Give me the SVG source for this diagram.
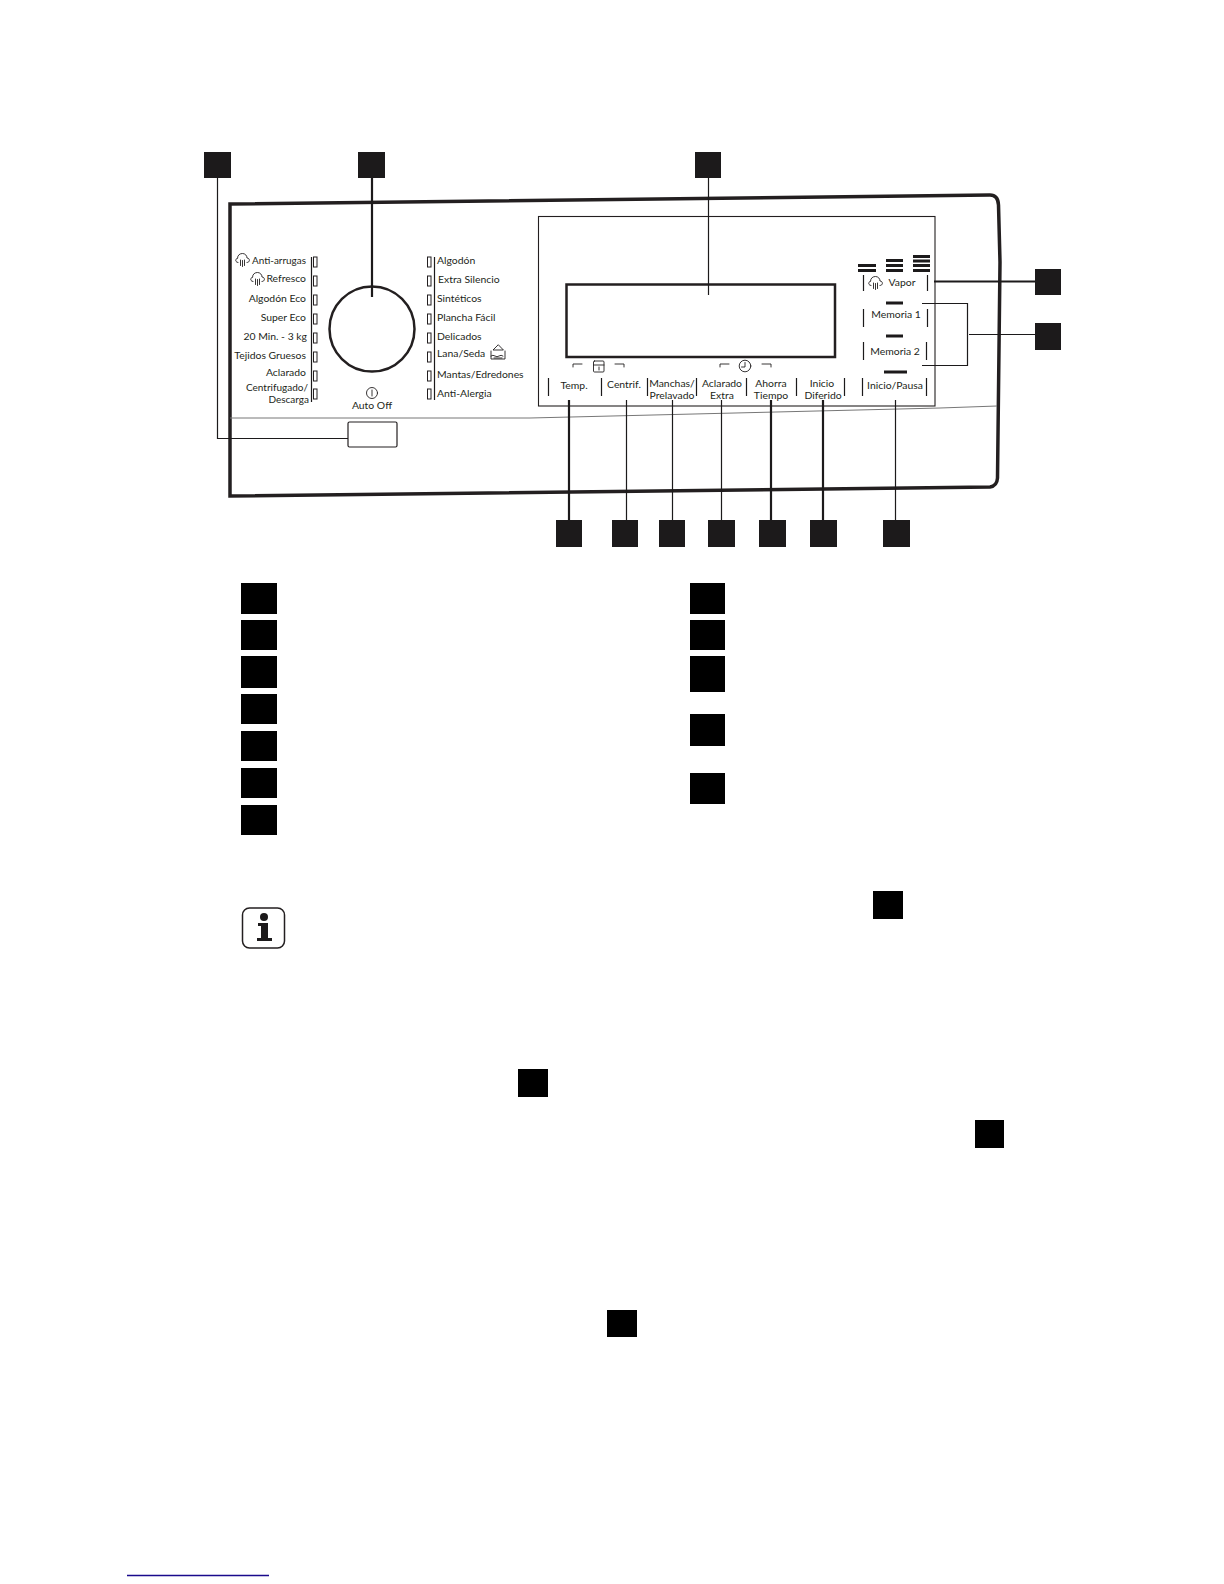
<svg xmlns="http://www.w3.org/2000/svg" width="1224" height="1584" viewBox="0 0 1224 1584">
<style>
.b{fill:#1c1a1b}
.n{fill:#000}
.t{font-family:"Lato","Liberation Sans",sans-serif;font-size:10.4px;fill:#231f20;transform:translateY(-.7px)}
.s{font-size:10px}
.e{text-anchor:end}.m{text-anchor:middle}
.l{fill:none;stroke:#1c1a1b;stroke-width:1.2}
.k{fill:none;stroke:#1c1a1b;stroke-width:2.2}
.led{fill:#fff;stroke:#231f20;stroke-width:1}
.i{fill:none;stroke:#231f20;stroke-width:.9;stroke-linecap:round;stroke-linejoin:round}
</style>
<defs>
<g id="cloud"><path class="i" d="M3 9.500C0 9.500 0 5.500 2.500 5.500C2.500 2 5 .5 7.500 .5C10 .5 12 2.500 12 5C15 5 15.500 9.500 12 9.500M5.500 7V12.500M7.500 7.500V13.500M9.500 7V12.500"/></g>
</defs>
<rect width="1224" height="1584" fill="#fff"/>
<g id="panel">
<path d="M1000 262 L998.500 205 Q998 195 990 195 L230 204 L230 496 L990 487 Q997 486 997.500 478 L1000 262Z" fill="none" stroke="#231f20" stroke-width="3.500"/>
<path d="M230 418 L530 418 L940 408 L997 406" fill="none" stroke="#777" stroke-width="1"/>
<rect x="348" y="422" width="49" height="25" rx="1.500" fill="#fff" stroke="#231f20" stroke-width="1.200"/>
<circle cx="372" cy="329" r="42.500" fill="none" stroke="#231f20" stroke-width="2.500"/>
<rect x="538.500" y="216.500" width="396.500" height="189.500" fill="#fff" stroke="#231f20" stroke-width="1.100"/>
<rect x="566.500" y="284.500" width="268.500" height="72.500" fill="none" stroke="#231f20" stroke-width="2.500"/>
</g>
<g id="panel-left">
<path class="l" d="M311.500 257V402M434.500 257V400"/>
<rect class="led" x="313.500" y="257" width="3.500" height="10"/><rect class="led" x="313.500" y="276" width="3.500" height="10"/><rect class="led" x="313.500" y="295" width="3.500" height="10"/><rect class="led" x="313.500" y="314" width="3.500" height="10"/><rect class="led" x="313.500" y="333" width="3.500" height="10"/><rect class="led" x="313.500" y="352" width="3.500" height="10"/><rect class="led" x="313.500" y="371" width="3.500" height="10"/><rect class="led" x="313.500" y="389" width="3.500" height="10"/>
<rect class="led" x="427.500" y="257" width="3.500" height="10"/><rect class="led" x="427.500" y="276" width="3.500" height="10"/><rect class="led" x="427.500" y="295" width="3.500" height="10"/><rect class="led" x="427.500" y="314" width="3.500" height="10"/><rect class="led" x="427.500" y="333" width="3.500" height="10"/><rect class="led" x="427.500" y="352" width="3.500" height="10"/><rect class="led" x="427.500" y="371" width="3.500" height="10"/><rect class="led" x="427.500" y="389" width="3.500" height="10"/>
<use href="#cloud" x="235" y="253"/><use href="#cloud" x="250" y="272"/>
<text class="t e" x="306" y="265" textLength="54" lengthAdjust="spacingAndGlyphs">Anti-arrugas</text>
<text class="t e" x="306" y="283">Refresco</text>
<text class="t e" x="306" y="303">Algodón Eco</text>
<text class="t e" x="306" y="322">Super Eco</text>
<text class="t e" x="307" y="341">20 Min. - 3 kg</text>
<text class="t e" x="306" y="360">Tejidos Gruesos</text>
<text class="t e" x="306" y="377">Aclarado</text>
<text class="t s e" x="308" y="392">Centrifugado/</text>
<text class="t s e" x="309" y="403.500">Descarga</text>
<text class="t" x="437" y="265">Algodón</text>
<text class="t" x="438" y="284">Extra Silencio</text>
<text class="t" x="437" y="303">Sintéticos</text>
<text class="t" x="437" y="322">Plancha Fácil</text>
<text class="t" x="437" y="341">Delicados</text>
<text class="t" x="437" y="358">Lana/Seda</text>
<text class="t" x="437" y="379">Mantas/Edredones</text>
<text class="t" x="437" y="398">Anti-Alergia</text>
<path class="i" d="M491 351V359H505V351M491 356Q493 354.500 495 356T499 356T503 356M498 345L493 350H503ZM494 358H502"/>
<circle class="i" cx="372" cy="393" r="5.500"/><path class="i" d="M372 390V396"/>
<text class="t m" x="372" y="410">Auto Off</text>
</g>
<g id="panel-right">
<path class="b" d="M858 264h18v3h-18zM858 269h18v3h-18zM886 259h17v3h-17zM886 264h17v3h-17zM886 269h17v3h-17zM913 255h17v3h-17zM913 259.500h17v3h-17zM913 264h17v3h-17zM913 269h17v3h-17zM886 301.500h17v3h-17zM886 334.500h17v3h-17zM884 370.500h23v3h-23z"/>
<path class="l" d="M863.500 275V291M927.500 275V291M863.500 309V327M927.500 309V327M863.500 342V360M926.500 342V360"/>
<use href="#cloud" x="868" y="276"/>
<text class="t m" x="902" y="287">Vapor</text>
<text class="t m" x="896" y="319">Memoria 1</text>
<text class="t m" x="895" y="356">Memoria 2</text>
<path class="l" d="M548.500 378V396M601.500 378V396M647.500 378V396M696.500 378V396M746.500 378V396M796.500 378V396M844.500 378V396M862.500 378V396M926.500 378V396"/>
<path class="i" d="M573 367V364H582M615 364H624V367M720 367V364H729M762 364H771V367"/>
<rect class="i" x="593.500" y="361" width="10.500" height="11" rx="1"/><path class="i" d="M593.500 365H604M599 367V370"/>
<circle class="i" cx="745" cy="366" r="5.800"/><path class="i" d="M745 362.500V367H741.500"/>
<text class="t m" x="574" y="390">Temp.</text>
<text class="t m" x="624" y="389">Centrif.</text>
<text class="t m" x="672" y="388">Manchas/</text><text class="t m" x="672" y="399.500">Prelavado</text>
<text class="t m" x="722" y="388">Aclarado</text><text class="t m" x="722" y="400">Extra</text>
<text class="t m" x="771" y="388">Ahorra</text><text class="t m" x="771" y="400">Tiempo</text>
<text class="t m" x="822" y="388">Inicio</text><text class="t m" x="823" y="400">Diferido</text>
<text class="t m" x="895" y="390">Inicio/Pausa</text>
</g>
<g id="connectors">
<path class="l" d="M217.500 178V438.500H348"/>
<path class="k" d="M372 178V297"/>
<path class="l" d="M708.500 178V295"/>
<path class="k" d="M569 400V520"/>
<path class="l" d="M626.500 400V520M672.500 400V520M721.500 400V520"/>
<path class="k" d="M771 400V520M823 400V520"/>
<path class="l" d="M895.500 400V520"/>
<path class="k" d="M934 281.500H1035"/>
<path class="l" d="M922 303.500H967.500V365.500H922M969 334.500H1035"/>
</g>
<g id="callouts">
<rect id="c1" class="b" x="204" y="152" width="27" height="26"/>
<rect id="c2" class="b" x="358" y="152" width="27" height="26"/>
<rect id="c3" class="b" x="695" y="152" width="26" height="26"/>
<rect id="c4" class="b" x="1035" y="269" width="26" height="26"/>
<rect id="c5" class="b" x="1035" y="323" width="26" height="27"/>
<rect id="c6" class="b" x="556" y="520" width="26" height="27"/>
<rect id="c7" class="b" x="612" y="520" width="26" height="27"/>
<rect id="c8" class="b" x="659" y="520" width="26" height="27"/>
<rect id="c9" class="b" x="708" y="520" width="27" height="27"/>
<rect id="c10" class="b" x="759" y="520" width="27" height="27"/>
<rect id="c11" class="b" x="810" y="520" width="27" height="27"/>
<rect id="c12" class="b" x="883" y="520" width="27" height="27"/>
</g>
<g id="legend">
<rect class="n" x="241" y="583" width="36" height="31"/>
<rect class="n" x="241" y="620" width="36" height="30"/>
<rect class="n" x="241" y="656" width="36" height="32"/>
<rect class="n" x="241" y="694" width="36" height="30"/>
<rect class="n" x="241" y="731" width="36" height="30"/>
<rect class="n" x="241" y="768" width="36" height="30"/>
<rect class="n" x="241" y="805" width="36" height="30"/>
<rect class="n" x="690" y="583" width="35" height="31"/>
<rect class="n" x="690" y="620" width="35" height="30"/>
<rect class="n" x="690" y="656" width="35" height="36"/>
<rect class="n" x="690" y="714" width="35" height="32"/>
<rect class="n" x="690" y="773" width="35" height="31"/>
</g>
<g id="info-icon">
<rect x="242.500" y="908" width="42" height="40" rx="7" fill="#fff" stroke="#231f20" stroke-width="1.500"/>
<circle class="b" cx="264" cy="917" r="4"/>
<path class="b" d="M258 923H268V938H272V941H257V938H261V926H258Z"/>
</g>
<g id="inline-refs">
<rect class="n" x="873" y="891" width="30" height="28"/>
<rect class="n" x="518" y="1069" width="30" height="28"/>
<rect class="n" x="975" y="1120" width="29" height="28"/>
<rect class="n" x="607" y="1310" width="30" height="27"/>
</g>
<path id="footer-line" d="M127 1575.500H269" stroke="#1a0a8c" stroke-width="1.300"/>
</svg>
